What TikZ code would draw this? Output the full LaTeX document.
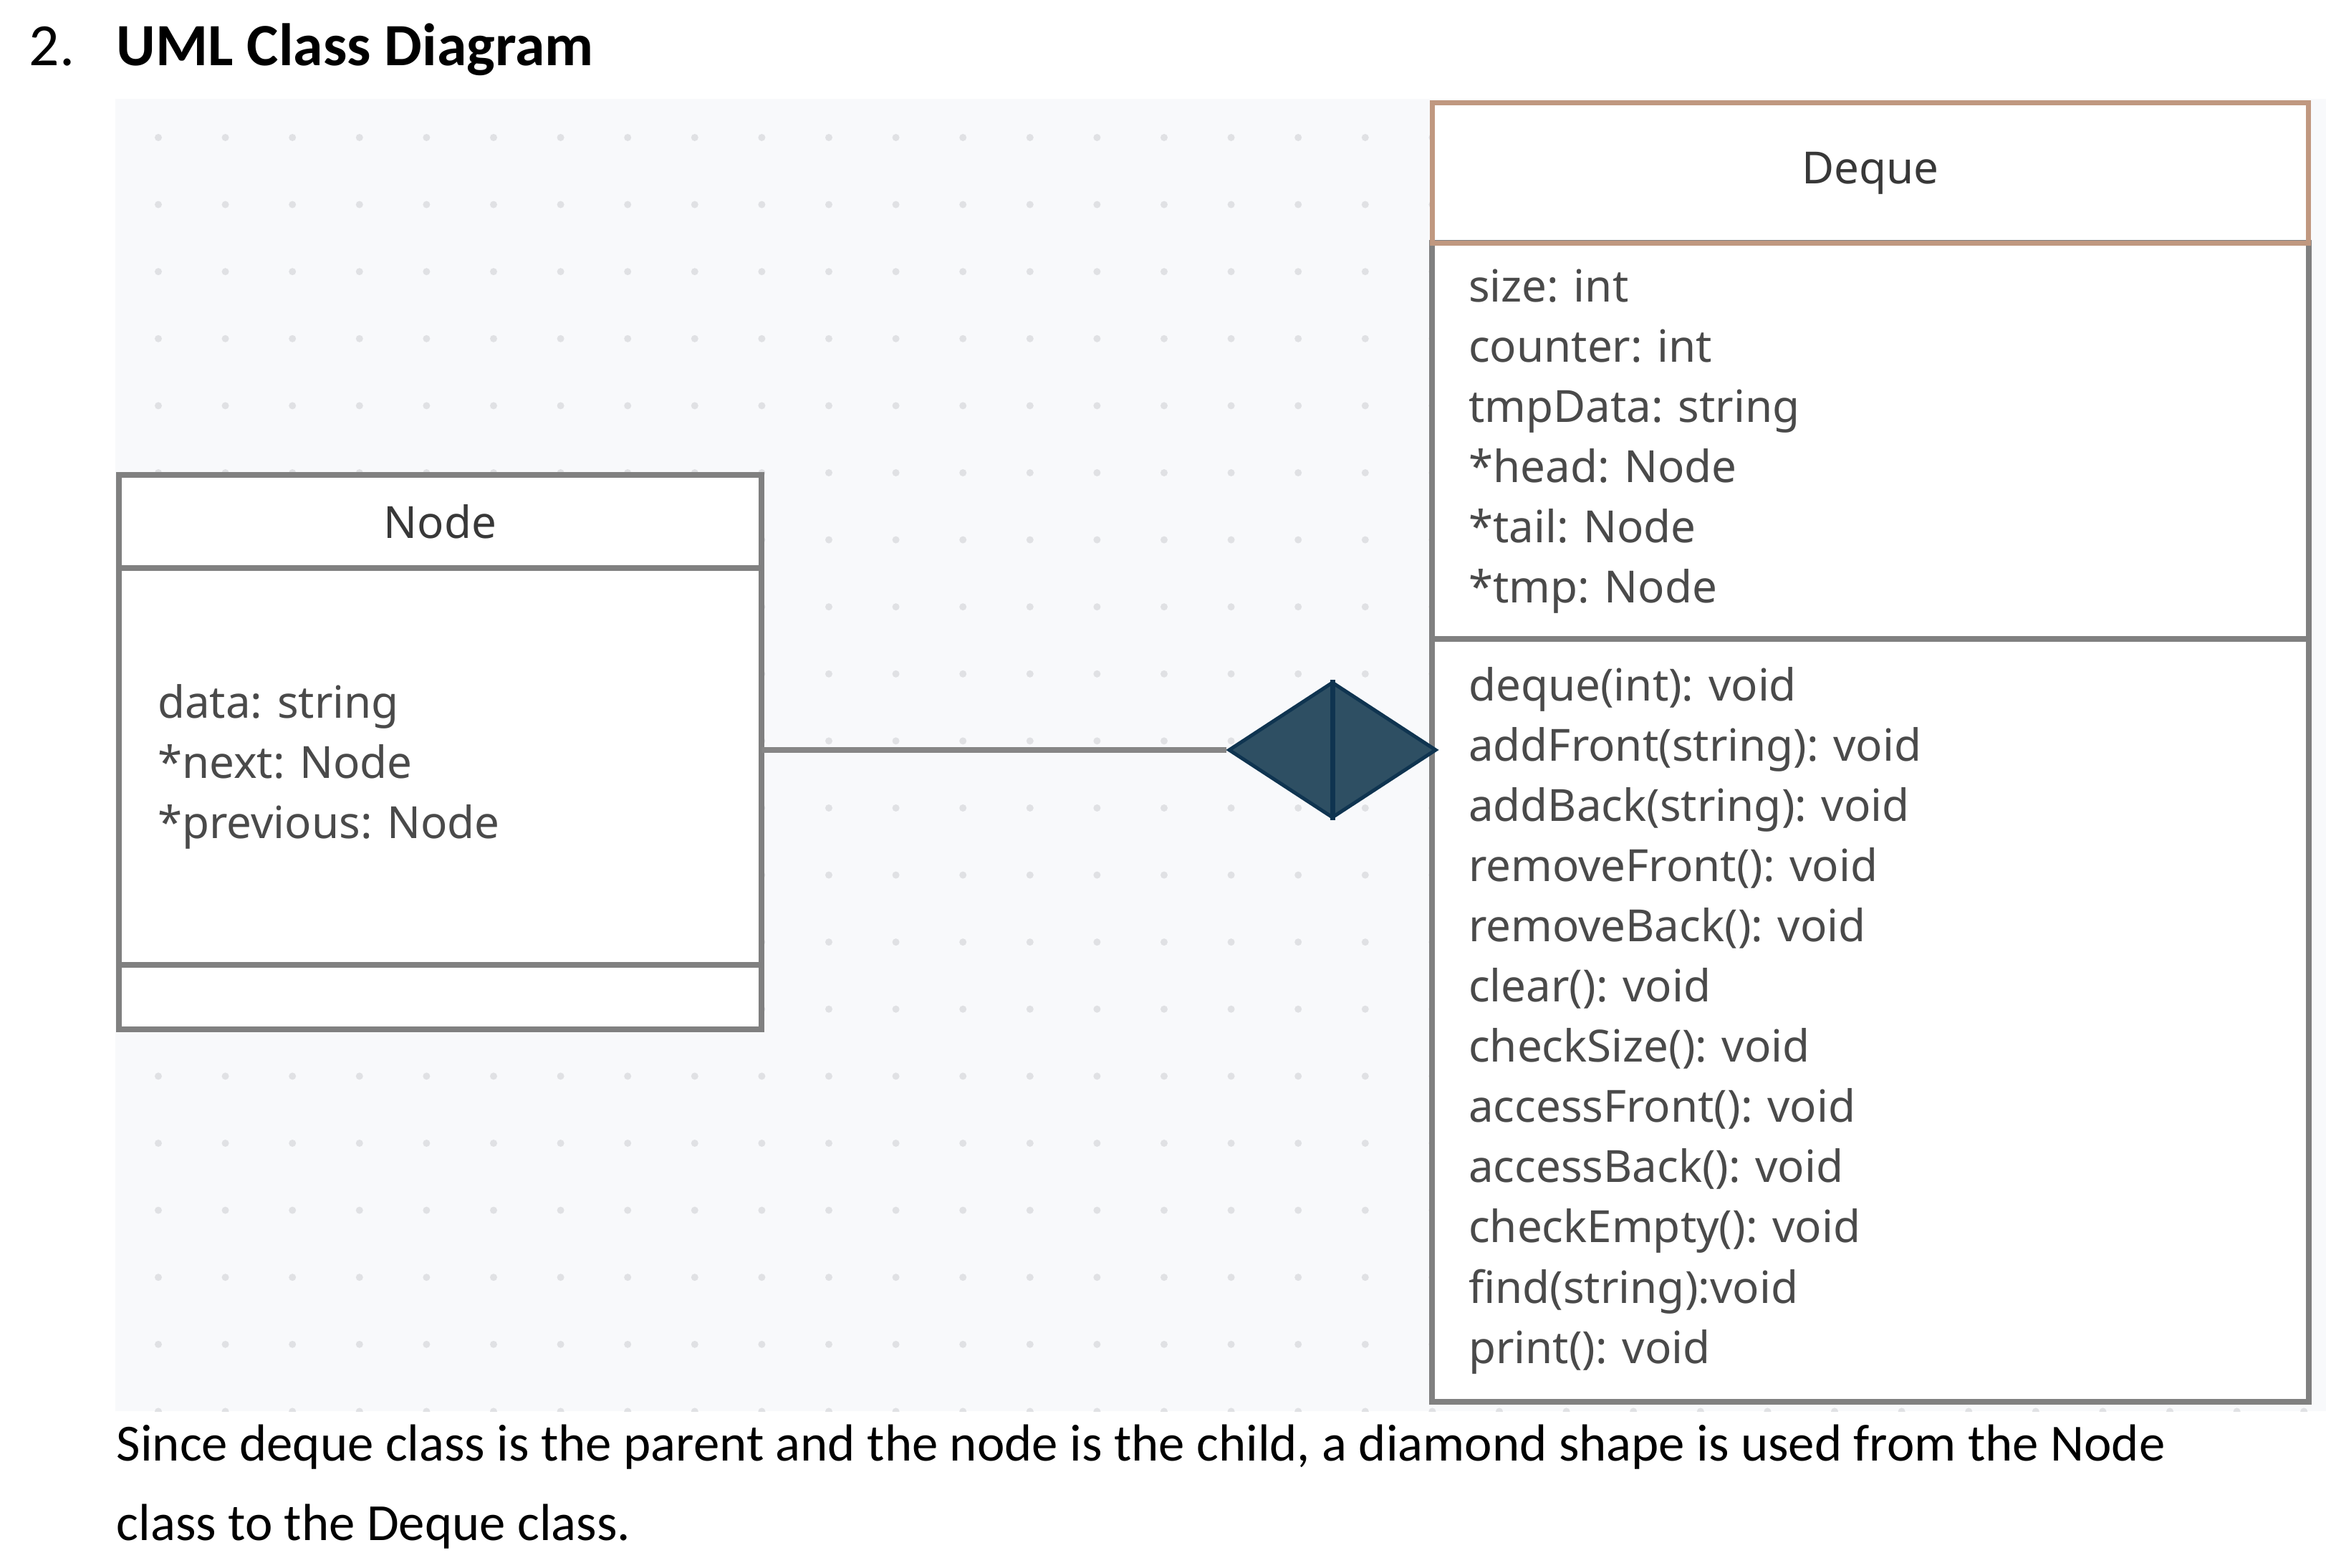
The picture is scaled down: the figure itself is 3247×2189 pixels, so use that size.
\documentclass[tikz,border=0pt]{standalone}
\usepackage{fontspec}
\setmainfont{Carlito}
\newfontfamily\umlfont{Noto Sans}
\usetikzlibrary{shapes.geometric}
\frenchspacing

\definecolor{canvas}{HTML}{F8F9FB}
\definecolor{dotgray}{HTML}{E0E1E4}
\definecolor{boxgray}{HTML}{808080}
\definecolor{headtan}{RGB}{192,152,128}
\definecolor{umltext}{HTML}{4A4A4A}
\definecolor{headtext}{HTML}{383838}
\definecolor{aggfill}{HTML}{2E4F63}
\definecolor{aggline}{HTML}{0F3450}

\tikzset{
  compart/.style={rectangle, draw=boxgray, line width=0.08cm, outer sep=0pt,
    inner sep=0pt, anchor=north west,
    font=\umlfont\fontsize{17.6pt}{23.9pt}\selectfont, text=umltext},
  attrs/.style={align=left, inner xsep=#1},
  headline/.style={draw=headtan, line width=0.07cm},
  aggr/.style={diamond, fill=aggfill, draw=aggline, line width=0.05cm,
    minimum width=2.9cm, minimum height=1.9cm, inner sep=0pt, aspect=1.53},
  link/.style={draw=boxgray!95!white, line width=0.08cm}
}

\begin{document}
\begin{tikzpicture}[x=0.01cm,y=-0.01cm]
\useasboundingbox (0,0) rectangle (3247,2189);

% heading
\node[anchor=base west, inner sep=0pt, font=\fontsize{23.8pt}{30pt}\selectfont] (num) at (40,92) {2.};
\node[anchor=base west, inner sep=0pt, font=\bfseries\fontsize{23.8pt}{30pt}\selectfont] (title) at (162,92) {UML Class Diagram};

% dotted canvas
\fill[canvas] (161,138) rectangle (3247,1970);
\begin{scope}
\clip (161,138) rectangle (3247,1970);
\foreach \i in {0,...,32}
  \foreach \j in {0,...,19}
    \fill[dotgray] (221+93.6*\i,192+93.6*\j) circle (0.05cm);
\end{scope}

% class Node
\node[compart, fill=white, minimum width=8.96cm, minimum height=1.30cm, text=headtext] (nodehead) at (166,663) {Node};
\node[compart, fill=white, minimum width=8.96cm, minimum height=5.54cm, text width=7.88cm, attrs=0.54cm] (nodeattr) at (nodehead.south west)
  {data: string\\{}*next: Node\\{}*previous: Node};
\node[compart, fill=white, minimum width=8.96cm, minimum height=0.90cm] (nodeops) at (nodeattr.south west) {};

% class Deque
\node[compart, draw=none, fill=white, minimum width=12.23cm, minimum height=1.95cm, text=headtext] (dqhead) at (1999,144) {Deque};
\node[compart, fill=white, minimum width=12.23cm, minimum height=5.53cm, text width=11.21cm, attrs=0.51cm] (dqattr) at (dqhead.south west)
  {size: int\\counter: int\\tmpData: string\\{}*head: Node\\{}*tail: Node\\{}*tmp: Node};
\node[compart, fill=white, minimum width=12.23cm, minimum height=10.64cm, text width=11.21cm, attrs=0.51cm] (dqops) at (dqattr.south west)
  {deque(int): void\\addFront(string): void\\addBack(string): void\\removeFront(): void\\removeBack(): void\\clear(): void\\checkSize(): void\\accessFront(): void\\accessBack(): void\\checkEmpty(): void\\find(string):void\\print(): void};
\draw[headline] (dqhead.north west) rectangle (dqhead.south east);

% aggregation
\node[aggr] (agg) at (1860,1047) {};
\draw[aggline, line width=0.07cm] (agg.north) -- (agg.south);
\draw[link] (agg.west -| nodeattr.east) -- (agg.west);

% note
\node[anchor=base west, align=left, inner sep=0pt, font=\fontsize{20.7pt}{31.3pt}\selectfont] (note) at (162,2150)
  {Since deque class is the parent and the node is the child, a diamond shape is used from the Node\\class to the Deque class.};
\end{tikzpicture}
\end{document}
